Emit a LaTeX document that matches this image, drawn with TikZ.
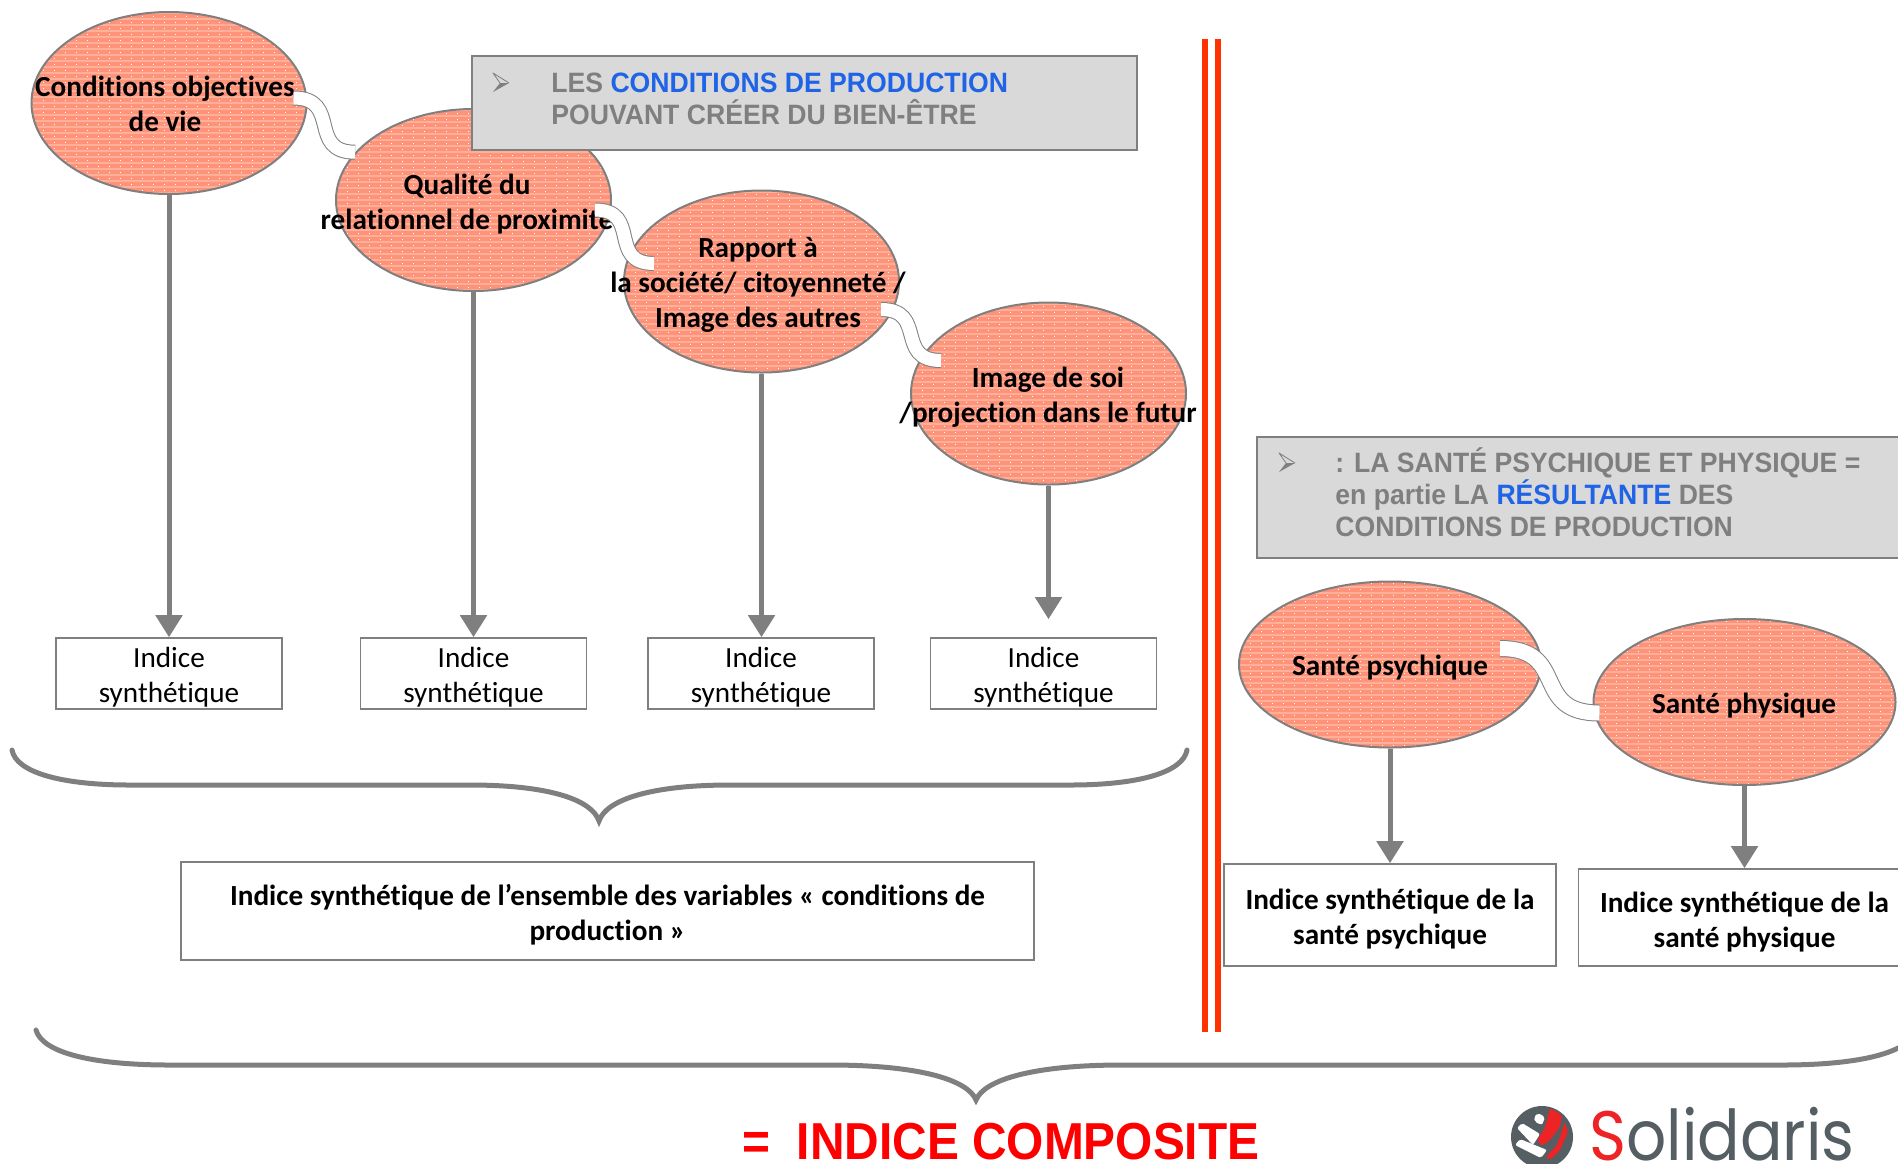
\documentclass[tikz,border=0pt]{standalone}
\usepackage{fontspec}
\usepackage{xcolor}
\usepackage{tikz}
\usetikzlibrary{calc,shapes.geometric,arrows.meta}
\setmainfont{Carlito}[Ligatures=NoCommon]
\newfontfamily\headfont[FakeStretch=0.95]{Liberation Sans}
\newfontfamily\titlefont[FakeStretch=0.92]{Liberation Sans}
\newfontfamily\logofont[FakeStretch=0.9]{Poppins}
\newcommand{\topgap}{\rule{0pt}{14.3pt}}
\definecolor{frame}{HTML}{7F7F7F}
\definecolor{salmon}{HTML}{FF9379}
\definecolor{stripe}{HTML}{FFB09B}
\definecolor{panel}{HTML}{D9D9D9}
\definecolor{blueword}{HTML}{1F63E6}
\definecolor{redrule}{HTML}{FF3300}
\definecolor{logogrey}{HTML}{555E62}
\definecolor{logored}{HTML}{EE2326}
\tikzset{
  blob/.style={ellipse, draw=frame, line width=1pt, fill=salmon, inner sep=0pt,
    path picture={
      \foreach \yy in {-48,-45,...,48}
        \draw[stripe, line width=1pt] ([yshift=\yy pt]path picture bounding box.west) -- ([yshift=\yy pt]path picture bounding box.east);
      \foreach \yy in {-46.5,-43.5,...,48}
        \draw[white, line width=0.5pt, dash pattern=on 0.5pt off 5pt] ([yshift=\yy pt]path picture bounding box.west) -- ([yshift=\yy pt]path picture bounding box.east);
    }},
  bigblob/.style={blob, minimum width=137.5pt, minimum height=91pt},
  widerblob/.style={blob, minimum width=151pt, minimum height=83pt},
  blobtext/.style={font=\bfseries\fontsize{14.6}{17.5}\selectfont, align=center},
  indice/.style={draw=frame, line width=0.8pt, fill=white, align=center, inner sep=0pt,
    font=\fontsize{14.6}{17.5}\selectfont},
  result/.style={indice, font=\bfseries\fontsize{14.6}{17.5}\selectfont},
  headbox/.style={draw=frame, line width=1pt, fill=panel, inner sep=0pt},
  headtext/.style={text=frame, font=\headfont\bfseries\fontsize{14}{16}\selectfont, align=left, anchor=west, inner sep=0pt},
  markhead/.pic={
    \fill[frame] (16,10) -- (7,10) -- (0,19) -- cycle;
    \draw[frame, line width=0.4pt, line join=round] (16,10) -- (0,0) -- (7,10);
  },
  arrow/.style={draw=frame, line width=2.5pt, -{Triangle[length=11pt,width=13pt]}},
  ribbon/.style={draw=frame, line width=0.5pt, double=white, double distance=6.5pt, looseness=1.5},
  curly/.style={draw=frame, line width=2.5pt, line cap=round},
  rule/.style={draw=redrule, line width=3pt}
}
\begin{document}
\begin{tikzpicture}[x=0.5pt,y=-0.5pt]
  \clip (0,0) rectangle (1898,1163);

  % left group
  \node[bigblob] (life) at (169,103) {};
  \node[bigblob] (rel) at (473.5,200) {};
  \node[bigblob] (soc) at (761.5,281.5) {};
  \node[bigblob] (self) at (1048.5,393.5) {};
  \node[headbox, minimum width=332.5pt, minimum height=47pt] (head1) at (804.5,103) {};
  \pic at (493,73) {markhead};
  \node[headtext] (headA) at (551,99) {LES \textcolor{blueword}{CONDITIONS DE PRODUCTION}\\POUVANT CRÉER DU BIEN-ÊTRE};
  \node[blobtext] (lifetxt) at (165,104) {Conditions objectives\\de vie};
  \node[blobtext] (reltxt) at (467,204) {Qualité du\\relationnel de proximité};
  \node[blobtext] (soctxt) at (758,285) {Rapport à\\la société/ citoyenneté /\\Image des autres};
  \node[blobtext] (selftxt) at (1048,397.5) {Image de soi\\/projection dans le futur};

  \draw[ribbon] ([shift={(-14,-5)}]life.east) to[out=0,in=180] (rel.158);
  \draw[ribbon] ([shift={(-17,10)}]rel.east) to[out=0,in=180] ([shift={(31,-18)}]soc.west);
  \draw[ribbon] ([shift={(-19,28)}]soc.east) to[out=0,in=180] ([shift={(31,-33)}]self.west);

  \node[indice, minimum width=113pt, minimum height=35.5pt] (ind1) at (169,673.5) {\topgap Indice\\synthétique};
  \node[indice, minimum width=113pt, minimum height=35.5pt] (ind2) at (473.5,673.5) {\topgap Indice\\synthétique};
  \node[indice, minimum width=113pt, minimum height=35.5pt] (ind3) at (761,673.5) {\topgap Indice\\synthétique};
  \node[indice, minimum width=113pt, minimum height=35.5pt] (ind4) at (1043.5,673.5) {\topgap Indice\\synthétique};

  \draw[arrow] (life.south) -- (life.south |- ind1.north);
  \draw[arrow] (rel.south) -- (rel.south |- ind2.north);
  \draw[arrow] (soc.south) -- (soc.south |- ind3.north);
  \draw[arrow,shorten >=9pt] (self.south) -- (self.south |- ind4.north);

  \draw[curly] (12,750) .. controls (16,772) and (60,785) .. (130,785) -- (470,785)
    .. controls (550,785) and (592,800) .. (599,821)
    .. controls (606,800) and (650,785) .. (730,785) -- (1070,785)
    .. controls (1140,785) and (1183,772) .. (1187,750);
  \node[result, minimum width=426.5pt, minimum height=49pt] (allprod) at (607.5,911)
    {\topgap Indice synthétique de l’ensemble des variables « conditions de\\production »};

  % separator
  \draw[rule] (1205,39) -- (1205,1032);
  \draw[rule] (1218,39) -- (1218,1032);

  % right group
  \node[headbox, minimum width=340pt, minimum height=60.5pt] (head2) at (1597,497.5) {};
  \pic at (1279,453) {markhead};
  \node[headtext] (headB) at (1335,492.5) {: LA SANTÉ PSYCHIQUE ET PHYSIQUE =\\en partie LA \textcolor{blueword}{RÉSULTANTE} DES\\CONDITIONS DE PRODUCTION};
  \node[widerblob] (psy) at (1390,664.5) {};
  \node[widerblob] (phy) at (1744.5,702) {};
  \node[blobtext] (psytxt) at (1390,667.5) {Santé psychique};
  \node[blobtext] (phytxt) at (1744,705.5) {Santé physique};
  \draw[ribbon, double distance=7.5pt] ([shift={(-42,-16)}]psy.east) to[out=0,in=180] ([shift={(7,11)}]phy.west);

  \node[result, minimum width=166pt, minimum height=51pt] (resA) at (1390,915) {\topgap Indice synthétique de la\\santé psychique};
  \node[result, minimum width=166pt, minimum height=48.5pt] (resB) at (1744.5,917.5) {\topgap Indice synthétique de la\\santé physique};
  \draw[arrow] (psy.south) -- (psy.south |- resA.north);
  \draw[arrow] (phy.south) -- (phy.south |- resB.north);

  \draw[curly] (36,1030) .. controls (42,1052) and (90,1065) .. (170,1065) -- (830,1065)
    .. controls (920,1065) and (968,1080) .. (976,1100)
    .. controls (984,1080) and (1032,1065) .. (1122,1065) -- (1782,1065)
    .. controls (1862,1065) and (1910,1052) .. (1916,1030);

  % title and logo
  \node[anchor=base west, inner sep=0pt, text=red, font=\titlefont\bfseries\fontsize{26}{26}\selectfont] (title) at (742,1159) {=\ \ INDICE COMPOSITE};
  \fill[logogrey] (1542,1137) circle (15.5pt);
  \fill[logored, rounded corners=1pt] (1550,1108) -- (1562,1115) -- (1560,1127) -- (1550,1140) -- (1542,1146) -- (1537,1140) -- (1545,1128) -- cycle;
  \fill[logored, rounded corners=1pt] (1565,1122) -- (1568,1132) -- (1560,1150) -- (1550,1160) -- (1546,1157) -- (1557,1145) -- cycle;
  \fill[white, rounded corners=1pt] (1534,1117) -- (1538,1113) -- (1545,1117) -- (1542,1125) -- (1535,1122) -- cycle;
  \fill[white, rounded corners=1pt] (1517,1128) -- (1522,1123) -- (1540,1134) -- (1533,1145) -- cycle;
  \fill[white, rounded corners=1pt] (1515,1145) -- (1520,1139) -- (1547,1150) -- (1541,1158) -- cycle;
  \node[anchor=base west, inner sep=0pt, text=logogrey, font=\logofont\fontsize{35}{35}\selectfont] (logo) at (1589,1160) {\textcolor{logored}{S}olidaris};
\end{tikzpicture}
\end{document}
